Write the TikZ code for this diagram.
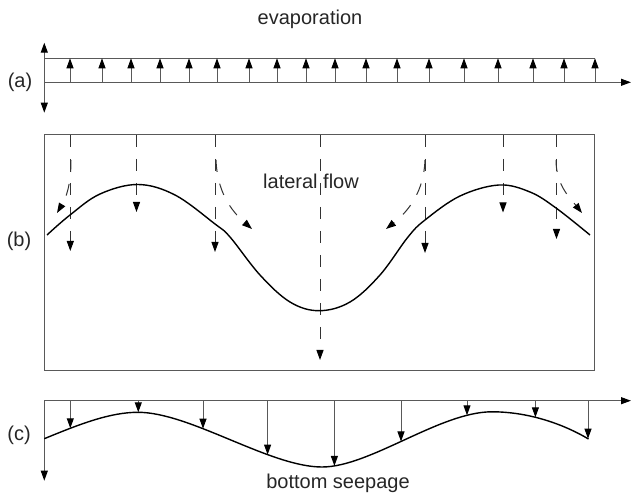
\documentclass[tikz,border=0pt]{standalone}
\usepackage{fontspec}
\setmainfont{Liberation Sans}
\usetikzlibrary{arrows.meta,intersections,calc}
\begin{document}
\begin{tikzpicture}[x=1pt,y=-1pt,
  tip/.style={-{Triangle[length=10pt,width=7pt,color=black]}},
  twotips/.style={{Triangle[length=10pt,width=7pt,color=black]}-{Triangle[length=10pt,width=7pt,color=black]}},
  axisline/.style={line width=1pt, draw=black!65},
  flowline/.style={line width=1pt, draw=black!80, dash pattern=on 12pt off 12pt},
  profile/.style={line width=1.4pt, draw=black},
  lbl/.style={font=\fontsize{20}{22}\selectfont, text=black!85, inner sep=0pt}]
\useasboundingbox (0,0) rectangle (632,494);

% ---------- (a) evaporation ----------
\node[lbl] (evap) at (310,19) {evaporation};
\node[lbl] (la) at (20,82) {(a)};
\coordinate (aO) at (44.3,82.3);
\coordinate (aTop) at (44.3,42.7);
\coordinate (aBot) at (44.3,112.7);
\coordinate (aEnd) at (631,82.3);
\draw[axisline,twotips] (aBot) -- (aTop);
\draw[axisline,tip] (aO) -- (aEnd);
\draw[axisline] (44.3,58.3) -- (595.3,58.3);
\foreach \x in {70,102,131,160,189,217,249,277,306,335,366,397,429,464,498,533,564,595}
  \draw[axisline,tip] (\x,82.3) -- (\x,58.3);

% ---------- (b) lateral flow ----------
\node[lbl] (lb) at (19,241) {(b)};
\draw[axisline] (44.3,135) rectangle (594.5,370.5);
\node[lbl] (lat) at (311,181) {lateral flow};
\foreach \x/\y in {70.3/251, 136.5/212, 215/252, 320/360, 425/253, 503/212.5, 556.5/239}
  \draw[flowline,tip] (\x,135) -- (\x,\y);
\draw[profile] plot[smooth,tension=0.6] coordinates {
  (47,235) (70,215) (100,194) (138,184.5) (175,195) (215,224) (230,237)
  (260,275) (290,302) (319,310.7) (350,302) (380,275) (408,237) (425,220)
  (460,196) (499,185) (530,192) (556,208) (590,235)};
% curved lateral flow arrows
\draw[flowline,tip] (71,160) .. controls (71,185) and (66,198) .. (57,213);
\draw[flowline,tip] (216,160) .. controls (217,190) and (230,210) .. (252,229);
\draw[flowline,tip] (425,160) .. controls (424,190) and (410,210) .. (386,229);
\draw[flowline,tip] (556,160) .. controls (556,185) and (570,198) .. (582,213);

% ---------- (c) bottom seepage ----------
\node[lbl] (lc) at (19,435) {(c)};
\node[lbl] (seep) at (338,483) {bottom seepage};
\coordinate (cO) at (44.3,400.7);
\coordinate (cEnd) at (631,400.7);
\coordinate (cBot) at (44.3,480.7);
\draw[axisline,tip] (cO) -- (cEnd);
\draw[axisline,tip] (cO) -- (cBot);
\draw[profile, name path global=cprof] (44.3,438.7)
  .. controls (80,424) and (110,412.3) .. (138,412.3)
  .. controls (190,412.3) and (270,467) .. (322,467)
  .. controls (370,467) and (440,411.8) .. (492,411.8)
  .. controls (530,411.8) and (565,425) .. (588.5,439);
% seepage arrows: straight down from the axis to the profile
\foreach \x in {70.3, 138.3, 203, 267.6, 334.4, 401, 467, 535.4, 588} {
  \path[name path global=vline] (\x,400.7) -- (\x,480);
  \path[name intersections={of=vline and cprof}] (intersection-1) coordinate (hit);
  \coordinate (top) at (\x,400.7);
  \draw[axisline,tip] (top) -- (top |- hit);
}
\end{tikzpicture}
\end{document}
